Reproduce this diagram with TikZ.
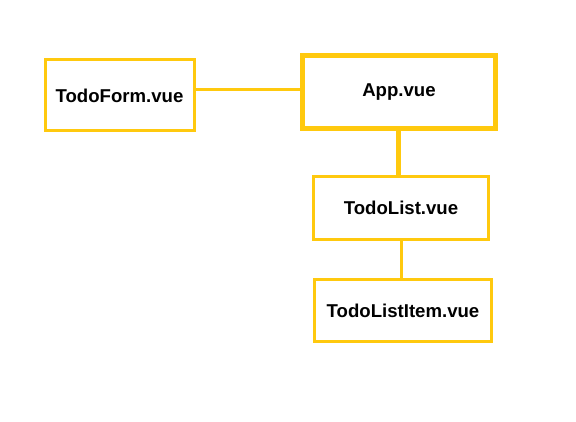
\documentclass[tikz,border=0pt]{standalone}
\usepackage{fontspec}
\setmainfont{Liberation Sans}
\usepackage{tikz}

\definecolor{vueyellow}{HTML}{FFC90E}

\begin{document}
\begin{tikzpicture}
  [x=1pt,y=-1pt,
   comp/.style={draw=vueyellow,line width=3pt,fill=white,inner sep=0pt,
     font=\fontsize{18.6}{20}\selectfont\bfseries},
   link/.style={draw=vueyellow,line width=3pt}]

  \useasboundingbox (0,0) rectangle (576,422);

  \node (form) [comp,minimum width=149pt,minimum height=71pt] at (119.5,95.5) {TodoForm.vue};
  \node (app) [comp,line width=5pt,minimum width=193pt,minimum height=73pt] at (399,92) {App.vue};
  \node (list) [comp,minimum width=175pt,minimum height=63.5pt] at (401,208) {TodoList.vue};
  \node (item) [comp,minimum width=176.5pt,minimum height=61pt] at (403,310.5) {TodoListItem.vue};

\draw [link] ([yshift=2.5pt]app.west) -- ([yshift=2.5pt]app.west -| form.east);
\draw [link,line width=5pt] ([xshift=-0.5pt]app.south) -- ([xshift=-0.5pt]app.south |- list.north);
\draw [link] ([xshift=0.5pt]list.south) -- ([xshift=0.5pt]list.south |- item.north);
\end{tikzpicture}
\end{document}
